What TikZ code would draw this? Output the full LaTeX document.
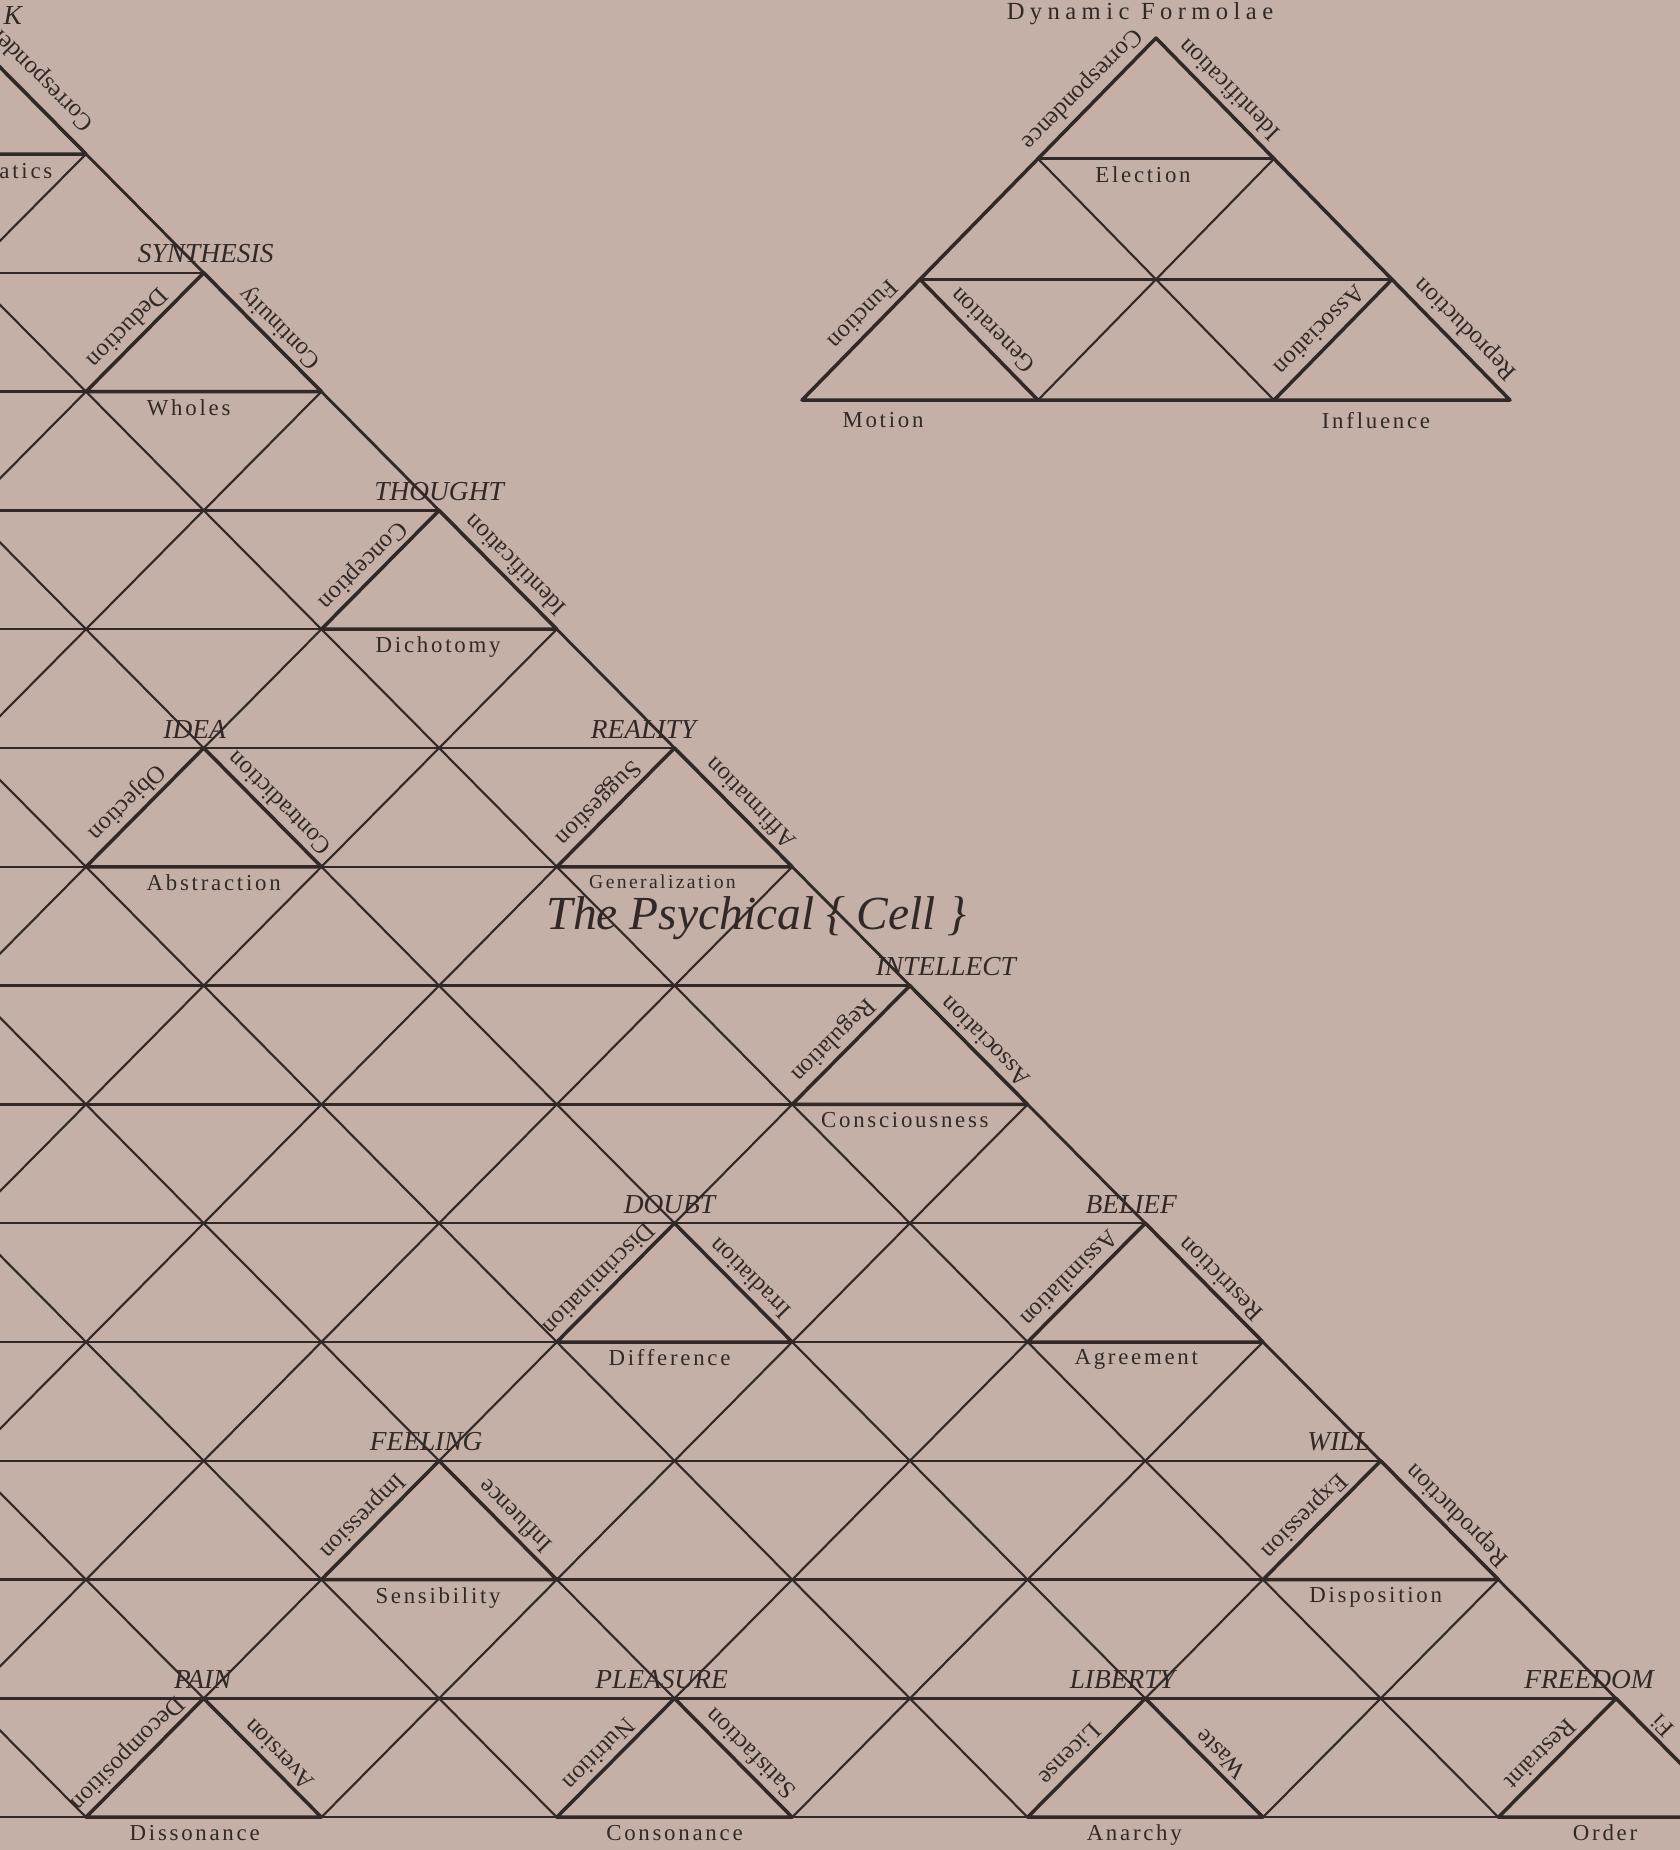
\documentclass[tikz,border=0pt]{standalone}
\usepackage{fontspec}
\setmainfont{Liberation Serif}
\newfontfamily\basefont[LetterSpace=12]{Liberation Serif}
\newfontfamily\widefont[LetterSpace=22]{Liberation Serif}
\definecolor{paper}{RGB}{196,176,167}
\definecolor{ink}{RGB}{50,41,38}
\def\gH{117.7}
\def\gV{118.8}
\def\gX{86}
\def\gY{154}
\tikzset{
  gridline/.style={line width=0.6pt, draw=ink},
  rowline/.style={line width=0.7pt, draw=ink},
  hypline/.style={line width=0.8pt, draw=ink},
  boldline/.style={line width=1.0pt, draw=ink, line join=round, line cap=round},
  capl/.style={font=\fontsize{7.8}{9}\selectfont\itshape, text=ink, inner sep=0pt},
  edgel/.style={font=\fontsize{7}{8}\selectfont, text=ink, inner sep=0pt},
  basel/.style={font=\basefont\fontsize{6.5}{8}\selectfont, text=ink, inner sep=0pt},
  titlel/.style={font=\fontsize{13.5}{16}\selectfont\itshape, text=ink, inner sep=0pt},
}
\newcommand\namedtri[9]{%
  \pgfmathsetmacro\tax{\gX+\gH*(#2)-2*\gH*(#3)}%
  \pgfmathsetmacro\tay{\gY+\gV*(#2)}%
  \draw[boldline] ({\tax-\gH},{\tay+\gV}) -- (\tax,\tay) -- ({\tax+\gH},{\tay+\gV}) -- cycle;%
  \node[capl, anchor=base] (#1-n) at ({\tax+(#5)},{\tay-10}) {#4};%
  \node[edgel, rotate=225, anchor=north] (#1-l) at ({\tax-\gH/2-10},{\tay+\gV/2+3}) {#6};%
  \if\relax\detokenize{#7}\relax\else
  \node[edgel, rotate=135, anchor=north] (#1-r) at ({\tax+\gH/2+10},{\tay+\gV/2+3}) {#7};\fi
  \node[basel, anchor=north] (#1-b) at ({\tax+(#9)},{\tay+\gV+7}) {#8};%
}
\begin{document}
\begin{tikzpicture}[x=0.1mm,y=-0.1mm]
\fill[paper] (0,0) rectangle (1680,1850);
\useasboundingbox (0,0) rectangle (1680,1850);
% ---------- big grid ----------
\begin{scope}
  \clip (0,0) rectangle (1680,1817.2);
  \foreach \k in {1,...,7} {
    \draw[gridline] ({\gX-2*\gH*\k-2*\gH},{\gY-2*\gV}) -- ({\gX-2*\gH*\k+15*\gH},{\gY+15*\gV});
  }
  \foreach \m in {0,...,13} {
    \draw[gridline] ({\gX+\gH*\m},{\gY+\gV*\m}) -- ({\gX+\gH*\m-15*\gH},{\gY+\gV*\m+15*\gV});
  }
  \foreach \j in {0,...,13} {
    \draw[rowline] (0,{\gY+\gV*\j}) -- ({\gX+\gH*\j},{\gY+\gV*\j});
  }
\end{scope}
\begin{scope}
  \clip (0,0) rectangle (1680,1850);
  \draw[hypline] ({\gX-2*\gH},{\gY-2*\gV}) -- ({\gX+15*\gH},{\gY+15*\gV});
  \draw[rowline] (0,1817.2) -- (1680,1817.2);
  % partial named triangle at the top left
  \draw[boldline] ({\gX-\gH},{\gY-\gV}) -- (\gX,\gY) -- (0,\gY);
\end{scope}
\node[capl, anchor=base west] (kk) at (3,24) {K};
\node[edgel, rotate=135] (corr) at (34,70) {Correspondence};
\node[basel, anchor=north east] (atics) at (53,163) {atics};
% ---------- named triangles ----------
\namedtri{syn}{1}{0}{SYNTHESIS}{2}{Deduction}{Continuity}{Wholes}{-15}
\namedtri{tho}{3}{0}{THOUGHT}{0}{Conception}{Identification}{Dichotomy}{-1}
\namedtri{ide}{5}{2}{IDEA}{-9}{Objection}{Contradiction}{Abstraction}{10}
\namedtri{rea}{5}{0}{REALITY}{-31}{Suggestion}{Affirmation}{{\fontsize{5.6}{6}\selectfont Generalization}}{-12}
\namedtri{int}{7}{0}{INTELLECT}{36}{Regulation}{Association}{Consciousness}{-5}
\namedtri{dou}{9}{2}{DOUBT}{-5}{Discrimination}{Irradiation}{Difference}{-5}
\namedtri{bel}{9}{0}{BELIEF}{-14}{Assimilation}{Restriction}{Agreement}{-9}
\namedtri{fee}{11}{4}{FEELING}{-13}{Impression}{Influence}{Sensibility}{-1}
\namedtri{wil}{11}{0}{WILL}{-42}{Expression}{Reproduction}{Disposition}{-5}
\namedtri{pai}{13}{6}{PAIN}{-1}{Decomposition}{Aversion}{Dissonance}{-9}
\namedtri{ple}{13}{4}{PLEASURE}{-13}{Nutrition}{Satisfaction}{Consonance}{0}
\namedtri{lib}{13}{2}{LIBERTY}{-23}{License}{Waste}{Anarchy}{-11}
\namedtri{fre}{13}{0}{FREEDOM}{-27}{Restraint}{}{Order}{-11}
\node[edgel, rotate=135] (fi) at (1662,1726) {Fi};
% ---------- title ----------
\node[titlel, anchor=base west] (title) at (546,929) {The Psychical \{ Cell \}};
% ---------- small triangle ----------
\coordinate (sA) at (1156,38);
\coordinate (s1L) at (1038,158.7);
\coordinate (s1R) at (1274,158.7);
\coordinate (s2L) at (920,279.4);
\coordinate (s2C) at (1156,279.4);
\coordinate (s2R) at (1392,279.4);
\coordinate (s3a) at (802,400.1);
\coordinate (s3b) at (1038,400.1);
\coordinate (s3c) at (1274,400.1);
\coordinate (s3d) at (1510,400.1);
\draw[rowline] (s2L) -- (s2R);
\draw[gridline] (s1L) -- (s3c);
\draw[gridline] (s1R) -- (s3b);
\draw[boldline] (sA) -- (s3a) -- (s3d) -- cycle;
\draw[boldline] (s1L) -- (s1R);
\draw[boldline] (s2L) -- (s3b);
\draw[boldline] (s2R) -- (s3c);
\node[font=\widefont\fontsize{7}{8}\selectfont, text=ink, inner sep=0pt] (dyn) at (1140,14) {Dynamic Formolae};
\node[edgel, rotate=225, anchor=north] (sCorr) at (1090,97) {Correspondence};
\node[edgel, rotate=135, anchor=north] (sIden) at (1222,97) {Identification};
\node[edgel, rotate=225, anchor=north] (sFunc) at (870,321) {Function};
\node[edgel, rotate=135, anchor=north] (sGen) at (986,337) {Generation};
\node[edgel, rotate=225, anchor=north] (sAss) at (1326,337) {Association};
\node[edgel, rotate=135, anchor=north] (sRep) at (1458,337) {Reproduction};
\node[basel, anchor=north] (sEle) at (1143,166) {Election};
\node[basel, anchor=north] (sMot) at (883,412) {Motion};
\node[basel, anchor=north] (sInf) at (1376,412) {Influence};
\end{tikzpicture}
\end{document}
